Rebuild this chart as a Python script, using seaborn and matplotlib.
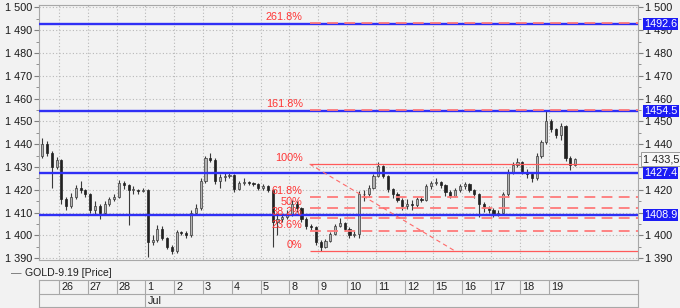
import numpy as np
import pandas as pd
import matplotlib
matplotlib.use("Agg")
import matplotlib.pyplot as plt
import seaborn as sns

# ---------------- data ----------------
day_labels = ['26', '27', '28', '1', '2', '3', '4', '5', '8', '9', '10', '11',
              '12', '15', '16', '17', '18', '19']
month_label = 'Jul'
month_start = 3          # index of day "1" in day_labels
bars_per_day = 6
first_bar = -4           # bars before the first labelled day
first_open = 1435.0

closes = [1440, 1436, 1430, 1433,
          1416, 1413, 1417, 1421, 1420, 1418,
          1411, 1413, 1410, 1414, 1416, 1417,
          1423, 1422, 1420, 1420, 1419.5, 1420,
          1397, 1398, 1403, 1399, 1395, 1393,
          1401.5, 1401, 1400, 1410, 1412, 1424,
          1434, 1433, 1424, 1425.5, 1426, 1426.5,
          1420.5, 1423, 1423.5, 1423, 1422.5, 1421,
          1421.5, 1420, 1406, 1407, 1408, 1409,
          1414, 1412, 1407, 1404, 1403.5, 1397,
          1395, 1397.5, 1400.5, 1404, 1405.5, 1403,
          1400, 1400.5, 1418, 1418, 1421, 1426,
          1430.5, 1426, 1420.5, 1418, 1415.5, 1413,
          1414, 1413.5, 1416, 1415.5, 1421.5, 1423,
          1423.5, 1422, 1419, 1417.5, 1420, 1421.5,
          1422.5, 1420, 1418, 1414, 1412, 1411,
          1409.5, 1410, 1418, 1428, 1431, 1432,
          1428, 1427, 1425, 1435, 1441, 1450,
          1446.5, 1444, 1448, 1434, 1431, 1433.5]
highs = [1442.6, 1441.5, 1437, 1434.5,
         1433.5, 1417, 1418.5, 1422, 1424, 1420.5,
         1418.5, 1415, 1414, 1415, 1417, 1418,
         1424.5, 1424, 1422.5, 1421.5, 1420.5, 1421,
         1420.5, 1400, 1404.5, 1404, 1399.5, 1396,
         1402.5, 1402, 1402, 1411, 1414, 1425,
         1435, 1436, 1434, 1427, 1427.5, 1427.5,
         1427, 1424, 1425, 1424, 1423.5, 1423,
         1422.5, 1422, 1420.5, 1409, 1409.5, 1411,
         1415.5, 1415, 1412.5, 1408, 1405, 1404,
         1398, 1398.5, 1401.5, 1405, 1407.5, 1406,
         1403.5, 1402, 1419.5, 1420, 1422, 1427,
         1432, 1431, 1426.5, 1421, 1419, 1416.5,
         1416, 1415.5, 1417, 1417, 1422.5, 1424,
         1425, 1424, 1422.5, 1420, 1421, 1422.5,
         1423.5, 1423, 1420.5, 1418.5, 1414.5, 1413,
         1412, 1411, 1419, 1429, 1432, 1433.8,
         1432.5, 1429, 1427.5, 1436, 1442, 1454.6,
         1451, 1447, 1449.2, 1448.5, 1435, 1434]
lows = [1434, 1435, 1421, 1429,
        1414, 1411, 1412, 1416, 1418.5, 1417,
        1410, 1409, 1407, 1409.5, 1413, 1415,
        1416.5, 1420.5, 1404.6, 1418, 1418, 1419,
        1390.7, 1396, 1397, 1398, 1394, 1392,
        1392.5, 1400, 1399, 1399.5, 1409, 1411,
        1423, 1432, 1422.5, 1421, 1424, 1425,
        1419, 1420, 1422, 1422, 1421.5, 1420,
        1420, 1419, 1395, 1400, 1406, 1407,
        1408.5, 1410.5, 1406, 1403, 1402.5, 1396,
        1393, 1394.5, 1397, 1400, 1403.5, 1402,
        1399, 1399.5, 1399, 1415, 1417, 1420.5,
        1425.5, 1425, 1419, 1416.5, 1414.5, 1411,
        1411.5, 1411, 1412.5, 1414.5, 1415, 1420.5,
        1422, 1421, 1417.5, 1416.5, 1417, 1419,
        1420.5, 1419, 1416.5, 1408, 1410.5, 1410,
        1408.2, 1408.5, 1409.5, 1417, 1427, 1430,
        1427, 1425, 1423.6, 1424.5, 1434, 1440,
        1445.5, 1442.5, 1442, 1432.5, 1428.7, 1430.5]

blue_levels = [1492.6, 1454.5, 1427.4, 1408.9]
fib_low, fib_high = 1393.1, 1431.3
fib_levels = [0, 23.6, 38.2, 50, 61.8, 100, 161.8, 261.8]
fib_start = 8.70
fib_diag_end = 13.76
last_price = 1433.5
last_price_label = '1 433,5'
legend_label = 'GOLD-9.19 [Price]'
y_ticks = list(range(1390, 1501, 10))

# ---------------- style ----------------
BG = '#f2f2f2'
sns.set_style('white', {'axes.facecolor': BG, 'figure.facecolor': BG})
plt.rcParams['font.family'] = ['Liberation Sans', 'DejaVu Sans']

W, H = 680, 308
fig = plt.figure(figsize=(W / 100, H / 100), dpi=100, facecolor=BG)
L, R, T, B = 39, 638, 5, 260
ax = fig.add_axes([L / W, 1 - B / H, (R - L) / W, (B - T) / H])
ax.set_facecolor(BG)
XMIN, XMAX = -0.694, 20.10
ax.set_xlim(XMIN, XMAX)
ax.set_ylim(1389.25, 1501.0)

for s in ax.spines.values():
    s.set_color('#a8a8a8')
    s.set_linewidth(0.8)

# grid
ax.hlines(y_ticks, XMIN, XMAX, colors='#b8b8b8', linewidth=0.8,
          linestyles=(0, (1, 2)), zorder=0.5)
ax.vlines(range(len(day_labels)), 1389.25, 1501.0, colors='#b8b8b8',
          linewidth=0.8, linestyles=(0, (1, 2)), zorder=0.5)

# ticks
ax.set_xticks([])
ax.set_yticks(y_ticks)
ax.set_yticks([v + 5 for v in y_ticks[:-1]], minor=True)
ax.yaxis.set_major_formatter(plt.FuncFormatter(
    lambda v, p: f"{int(round(v)) // 1000} {int(round(v)) % 1000:03d}"))
ax.tick_params(axis='y', which='both', left=True, right=True,
               labelleft=True, labelright=True, direction='out',
               color='#808080', labelsize=7.8, labelcolor='#1a1a1a', pad=1.5)
ax.tick_params(axis='y', which='major', length=3.5)
ax.tick_params(axis='y', which='minor', length=2)

# candles
n = len(closes)
xs = np.array([(first_bar + i + 0.5) / bars_per_day for i in range(n)])
opens = np.array([first_open] + closes[:-1], dtype=float)
cl = np.array(closes, dtype=float)
ax.vlines(xs, lows, highs, colors='#3a3a3a', linewidth=0.8, zorder=2)
up = cl >= opens
bottoms = np.minimum(opens, cl)
heights = np.maximum(np.abs(cl - opens), 0.35)
ax.bar(xs[up], heights[up], bottom=bottoms[up], width=0.075,
       color='#b4b4b4', edgecolor='#3a3a3a', linewidth=0.5, zorder=2.1)
ax.bar(xs[~up], heights[~up], bottom=bottoms[~up], width=0.075,
       color='#222222', edgecolor='#222222', linewidth=0.5, zorder=2.1)

# blue horizontal levels
for lv in blue_levels:
    ax.axhline(lv, color='#2f2ff5', linewidth=1.7, zorder=3)

# fibonacci levels
rng = fib_high - fib_low
for lvl in fib_levels:
    price = fib_low + rng * lvl / 100.0
    if lvl in (0, 100):
        ax.hlines(price, fib_start, XMAX, colors='#ff5a5a', linewidth=0.9,
                  zorder=3.5)
    else:
        ax.hlines(price, fib_start, XMAX, colors='#ff7a7a', linewidth=1.3,
                  linestyles=(0, (6, 3.5)), zorder=3.5)
    ax.annotate(f"{lvl:g}%", xy=(fib_start, price), xytext=(-5, 0.8),
                textcoords='offset points', ha='right', va='bottom',
                color='#ff3535', fontsize=7.8, zorder=5)

diag = pd.DataFrame({'x': [fib_start, fib_diag_end], 'y': [fib_high, fib_low]})
sns.lineplot(data=diag, x='x', y='y', ax=ax, color='#ff6a6a', linewidth=0.8,
             dashes=False, zorder=3.6)
ax.lines[-1].set_linestyle((0, (4, 3)))
ax.set_xlabel('')
ax.set_ylabel('')

# right-side value boxes
for lv in blue_levels:
    ax.annotate(f"{lv:.1f}", xy=(1, lv), xycoords=('axes fraction', 'data'),
                xytext=(4.2, 0), textcoords='offset points', ha='left',
                va='center', color='white', fontsize=7.8, zorder=10,
                annotation_clip=False,
                bbox=dict(boxstyle='square,pad=0.12', fc='#1c1cf5', ec='none'))
ax.annotate(last_price_label, xy=(1, last_price), xycoords=('axes fraction', 'data'),
            xytext=(3.6, 0), textcoords='offset points', ha='left',
            va='center', color='#202020', fontsize=7.8, zorder=10,
            annotation_clip=False,
            bbox=dict(boxstyle='square,pad=0.15', fc='#f7f7f7', ec='#9a9a9a',
                      lw=0.7))

# legend row
fig.text(11 / W, 1 - 273 / H, '—', color='#606060', fontsize=7.6, va='center')
fig.text(25 / W, 1 - 273 / H, legend_label, color='#202020', fontsize=7.6,
         va='center')

# date table
tax = fig.add_axes([L / W, 1 - 307 / H, (R - L) / W, 27 / H])
tax.set_facecolor(BG)
tax.set_xlim(XMIN, XMAX)
tax.set_ylim(0, 2)
tax.set_xticks([])
tax.set_yticks([])
for s in tax.spines.values():
    s.set_color('#a8a8a8')
    s.set_linewidth(0.8)
tax.hlines(1, XMIN, XMAX, colors='#a8a8a8', linewidth=0.8)
tax.vlines(range(len(day_labels)), 1, 2, colors='#a8a8a8', linewidth=0.8)
tax.vlines([month_start], 0, 1, colors='#a8a8a8', linewidth=0.8)
for i, lab in enumerate(day_labels):
    tax.text(i + 0.07, 1.48, lab, ha='left', va='center', fontsize=7.8,
             color='#202020')
tax.text(month_start + 0.07, 0.48, month_label, ha='left', va='center',
         fontsize=7.8, color='#202020')

fig.savefig('out.png', dpi=100, facecolor=BG)
